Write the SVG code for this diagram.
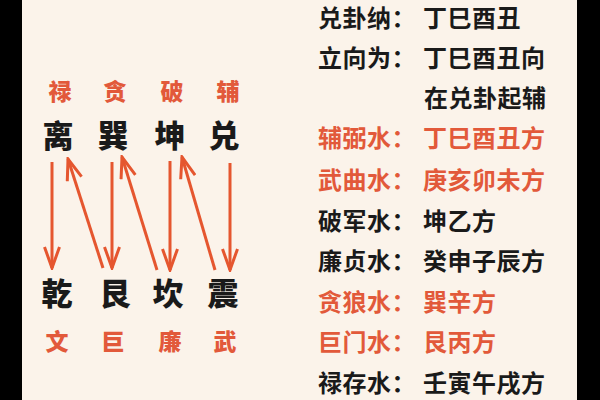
<svg xmlns="http://www.w3.org/2000/svg" width="600" height="400" viewBox="0 0 600 400">
  <style>
    .cjk { font-family: "Noto Sans CJK SC", "Noto Sans CJK JP", sans-serif; font-weight: 700; }
    .red { fill: #e2593a; }
    .blk { fill: #1a1a1a; }
    .lab { font-size: 23px; text-anchor: middle; font-weight: 900; }
    .big { font-size: 31px; text-anchor: middle; font-weight: 900; }
    .row { font-size: 24px; letter-spacing: 0.5px; }
    .arr { stroke: #e5562f; stroke-width: 3; fill: none; marker-end: url(#ah); }
  </style>
  <defs>
    <marker id="ah" viewBox="0 0 24 18" refX="22" refY="9" markerWidth="24" markerHeight="18" markerUnits="userSpaceOnUse" orient="auto">
      <path d="M1,1.5 L22,9 L1,16.5" fill="none" stroke="#e5562f" stroke-width="3" stroke-linejoin="miter"/>
    </marker>
  </defs>
  <rect x="0" y="0" width="600" height="400" fill="#fbf3ea"/>
  <rect x="0" y="0" width="22" height="400" fill="#000"/>
  <rect x="577" y="0" width="23" height="400" fill="#000"/>

  <g id="top-labels" class="cjk red lab">
    <text x="60" y="100">禄</text>
    <text x="115" y="100">贪</text>
    <text x="172" y="100">破</text>
    <text x="228" y="100">辅</text>
  </g>
  <g id="node-li" class="cjk blk big"><text x="58" y="147">离</text></g>
  <g id="node-xun" class="cjk blk big"><text x="113" y="147">巽</text></g>
  <g id="node-kun" class="cjk blk big"><text x="170" y="147">坤</text></g>
  <g id="node-dui" class="cjk blk big"><text x="224" y="147">兑</text></g>
  <g id="node-qian" class="cjk blk big"><text x="57" y="305">乾</text></g>
  <g id="node-gen" class="cjk blk big"><text x="115" y="305">艮</text></g>
  <g id="node-kan" class="cjk blk big"><text x="168" y="305">坎</text></g>
  <g id="node-zhen" class="cjk blk big"><text x="223" y="305">震</text></g>
  <g id="bottom-labels" class="cjk red lab">
    <text x="57" y="350">文</text>
    <text x="113" y="350">巨</text>
    <text x="170" y="350">廉</text>
    <text x="225" y="350">武</text>
  </g>

  <g id="connectors">
    <line class="arr" x1="52" y1="162" x2="52" y2="268"/>
    <line class="arr" x1="103" y1="268" x2="68" y2="159"/>
    <line class="arr" x1="112" y1="162" x2="112" y2="268"/>
    <line class="arr" x1="157" y1="270" x2="122" y2="157"/>
    <line class="arr" x1="170" y1="161" x2="170" y2="270"/>
    <line class="arr" x1="215" y1="270" x2="182" y2="157"/>
    <line class="arr" x1="230" y1="163" x2="230" y2="270"/>
  </g>

  <g id="list" class="cjk row">
    <text class="blk" x="318" y="27">兑卦纳：</text><text class="blk" x="423" y="27">丁巳酉丑</text>
    <text class="blk" x="318" y="67">立向为：</text><text class="blk" x="423" y="67">丁巳酉丑向</text>
    <text class="blk" x="424" y="107">在兑卦起辅</text>
    <text class="red" x="318" y="147">辅弼水：</text><text class="red" x="423" y="147">丁巳酉丑方</text>
    <text class="red" x="318" y="189">武曲水：</text><text class="red" x="423" y="189">庚亥卯未方</text>
    <text class="blk" x="318" y="230">破军水：</text><text class="blk" x="423" y="230">坤乙方</text>
    <text class="blk" x="318" y="270">廉贞水：</text><text class="blk" x="423" y="270">癸申子辰方</text>
    <text class="red" x="318" y="311">贪狼水：</text><text class="red" x="423" y="311">巽辛方</text>
    <text class="red" x="318" y="351">巨门水：</text><text class="red" x="423" y="351">艮丙方</text>
    <text class="blk" x="318" y="392">禄存水：</text><text class="blk" x="423" y="392">壬寅午戌方</text>
  </g>
</svg>
